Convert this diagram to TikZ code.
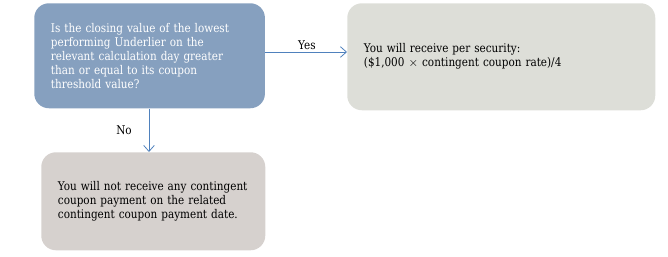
\documentclass[tikz,border=0pt]{standalone}
\usepackage{fontspec}
\setmainfont{DejaVu Serif}[FakeStretch=0.87]
\usetikzlibrary{arrows.meta}
\definecolor{qblue}{RGB}{134,160,191}
\definecolor{yesgrey}{RGB}{221,222,216}
\definecolor{nogrey}{RGB}{214,209,206}
\definecolor{arrowblue}{RGB}{79,129,189}
\tikzset{
  txt/.style={font=\fontsize{9}{10.5}\selectfont},
  box/.style={rectangle, rounded corners=11pt, draw=none, inner xsep=12.5pt, inner ysep=0pt, align=left, anchor=north west, txt},
  conn/.style={draw=arrowblue, line width=0.75pt, -{Straight Barb[length=4.5pt,width=8pt,line width=0.6pt]}},
  lbl/.style={txt, text=black, inner sep=0pt}
}
\begin{document}
\begin{tikzpicture}[x=0.75pt,y=-0.75pt]
\useasboundingbox (0,0) rectangle (668,257);
\node[box, fill=qblue, text=white, text width=148pt, minimum width=173pt, minimum height=78.75pt] (q) at (34,3)
  {Is the closing value of the lowest\\performing Underlier on the\\relevant calculation day greater\\than or equal to its coupon\\threshold value?};
\node[box, fill=yesgrey, text=black, text width=206pt, minimum width=231pt, minimum height=80.25pt] (yes) at (347,3)
  {You will receive per security:\\(\$1,000 $\times$ contingent coupon rate)/4};
\node[box, fill=nogrey, text=black, text width=143pt, minimum width=168pt, minimum height=73.5pt] (no) at (41,152)
  {You will not receive any contingent\\coupon payment on the related\\contingent coupon payment date.};
\coordinate (a1) at (q.east |- 0,52);
\coordinate (a2) at (yes.west |- 0,52);
\draw[conn] (a1) -- (a2);
\coordinate (b1) at (149,0 |- q.south);
\coordinate (b2) at (149,0 |- no.north);
\draw[conn] (b1) -- (b2);
\node[lbl] (yeslbl) at (307,45) {Yes};
\node[lbl] (nolbl) at (124,130) {No};
\end{tikzpicture}
\end{document}
